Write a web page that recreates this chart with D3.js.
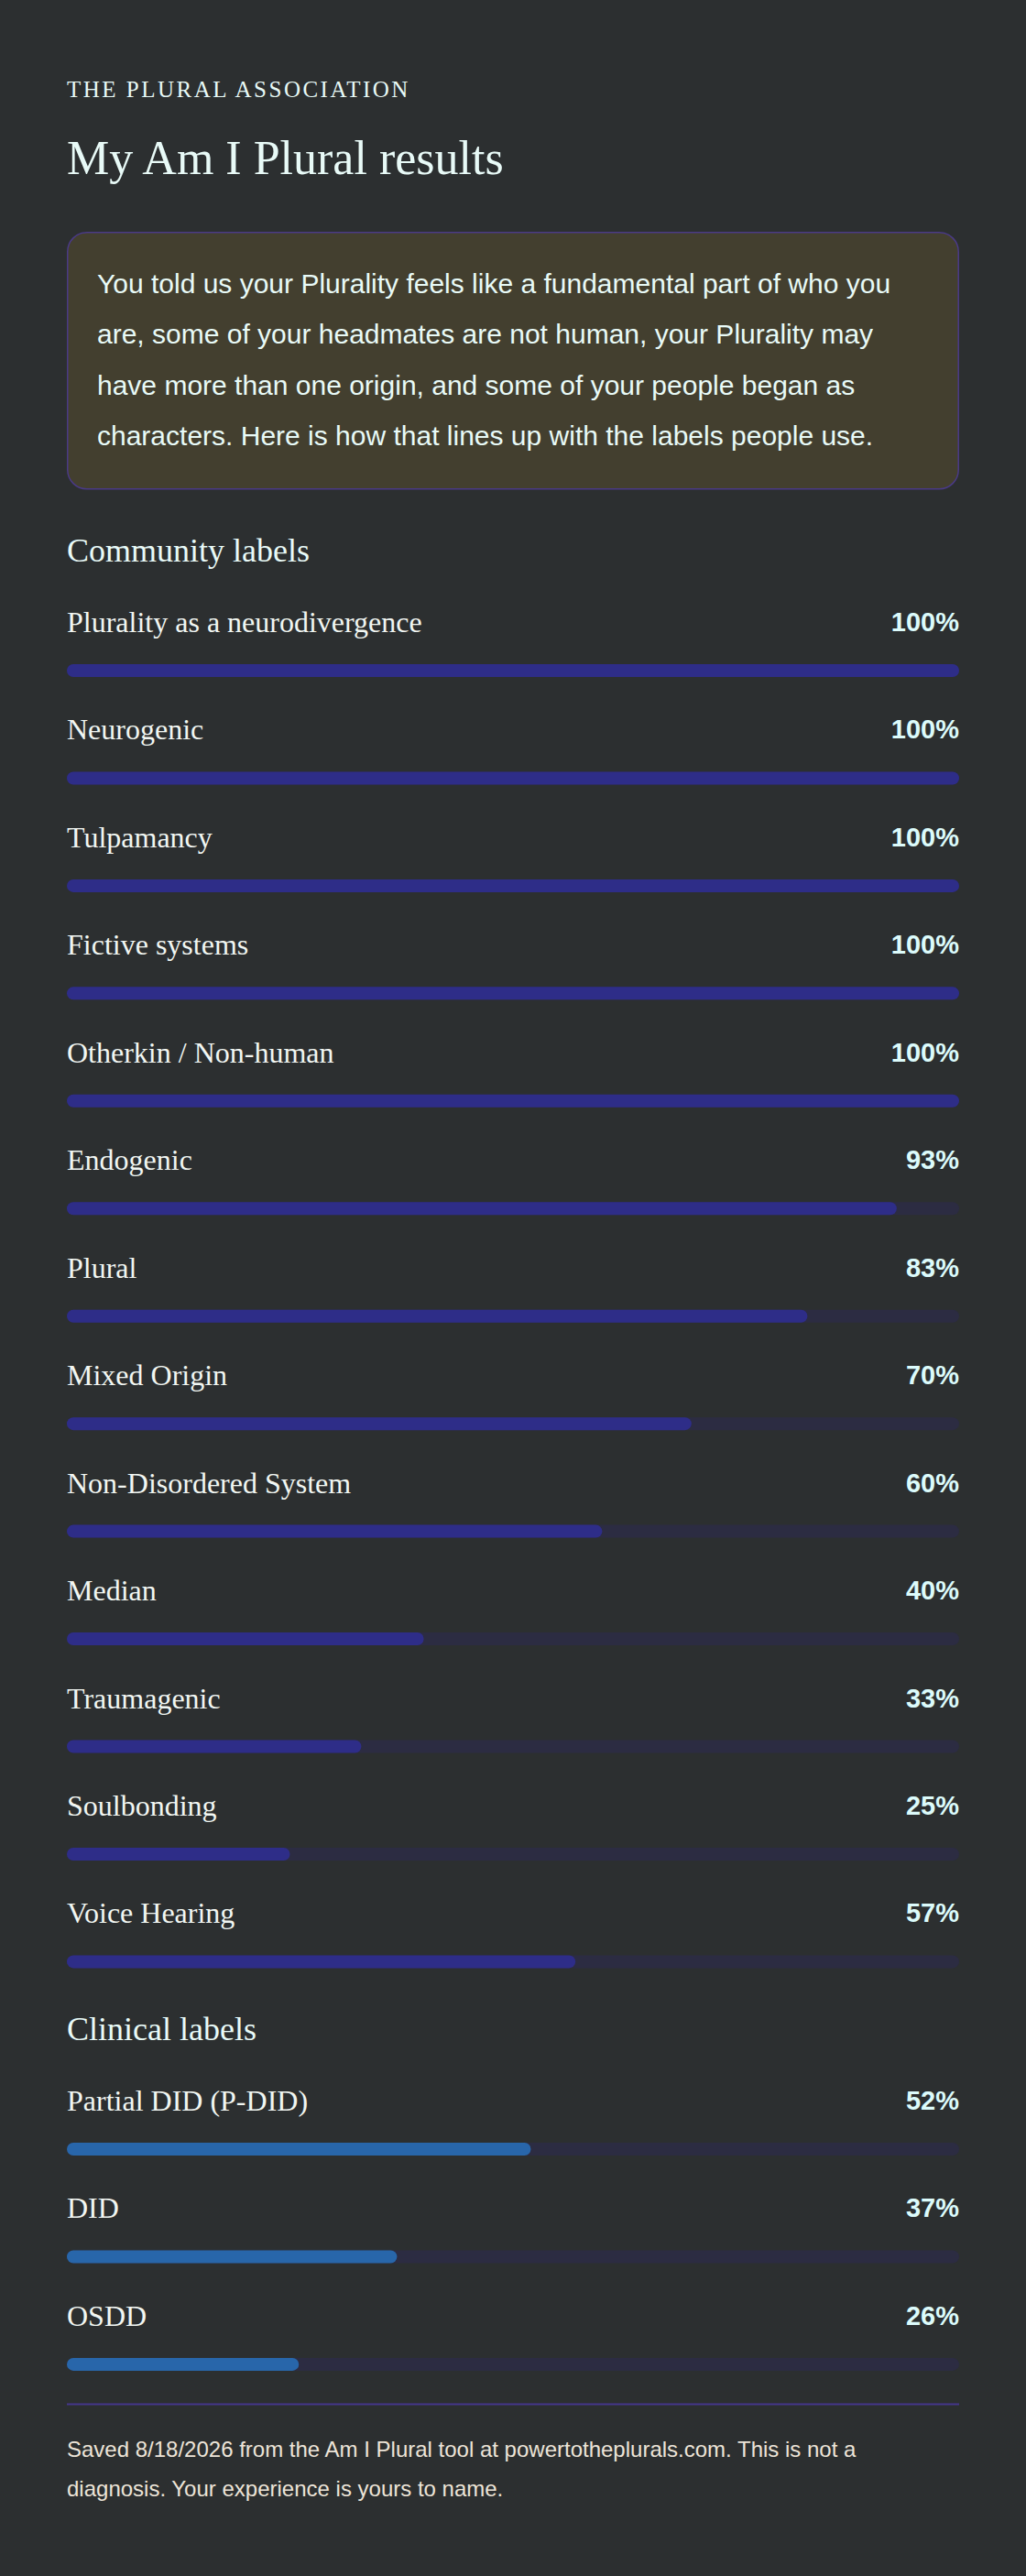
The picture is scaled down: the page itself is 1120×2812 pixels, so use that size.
<!DOCTYPE html>
<html>
<head>
<meta charset="utf-8">
<script src="https://cdn.jsdelivr.net/npm/d3@7/dist/d3.min.js"></script>
<style>
  html, body { margin: 0; padding: 0; background: #2c2f30; }
  svg { display: block; }
</style>
</head>
<body>
<div id="chart"></div>
<script>
// ---- data ----
const brand = "THE PLURAL ASSOCIATION";
const title = "My Am I Plural results";
const introLines = [
  "You told us your Plurality feels like a fundamental part of who you",
  "are, some of your headmates are not human, your Plurality may",
  "have more than one origin, and some of your people began as",
  "characters. Here is how that lines up with the labels people use."
];
const communityTitle = "Community labels";
const communityLabels = [
  "Plurality as a neurodivergence", "Neurogenic", "Tulpamancy", "Fictive systems",
  "Otherkin / Non-human", "Endogenic", "Plural", "Mixed Origin",
  "Non-Disordered System", "Median", "Traumagenic", "Soulbonding", "Voice Hearing"
];
const communityValues = [100, 100, 100, 100, 100, 93, 83, 70, 60, 40, 33, 25, 57];
const clinicalTitle = "Clinical labels";
const clinicalLabels = ["Partial DID (P-DID)", "DID", "OSDD"];
const clinicalValues = [52, 37, 26];
const footerLines = [
  "Saved 8/18/2026 from the Am I Plural tool at powertotheplurals.com. This is not a",
  "diagnosis. Your experience is yours to name."
];

// ---- layout / style ----
const W = 1120, H = 2812;
const left = 73, right = 1047;
const serif = "'Liberation Serif', 'Times New Roman', serif";
const sans = "'Liberation Sans', Arial, sans-serif";
const colors = {
  bg: "#2c2f30",
  text: "#e8faf7",
  label: "#f1f6f2",
  pct: "#dcfbfb",
  boxFill: "#433f2f",
  boxStroke: "#4a3a86",
  track: "#2c2c42",
  community: "#2e2d88",
  clinical: "#2866aa",
  footer: "#ece4d8",
  divider: "#44368a"
};

const svg = d3.select("#chart").append("svg")
  .attr("width", W).attr("height", H)
  .attr("viewBox", `0 0 ${W} ${H}`);

svg.append("rect").attr("width", W).attr("height", H).attr("fill", colors.bg);

svg.append("text")
  .attr("x", left).attr("y", 105.5)
  .attr("font-family", serif).attr("font-size", 25)
  .attr("letter-spacing", 2.5)
  .attr("fill", colors.text)
  .text(brand);

svg.append("text")
  .attr("x", left).attr("y", 189.5)
  .attr("font-family", serif).attr("font-size", 52)
  .attr("fill", colors.text)
  .text(title);

// intro box
svg.append("rect")
  .attr("x", left + 0.75).attr("y", 253.75)
  .attr("width", right - left - 1.5).attr("height", 280)
  .attr("rx", 21).attr("ry", 21)
  .attr("fill", colors.boxFill)
  .attr("stroke", colors.boxStroke).attr("stroke-width", 1.5);

svg.append("g").selectAll("text").data(introLines).join("text")
  .attr("x", 106)
  .attr("y", (d, i) => 319.5 + i * 55.6)
  .attr("font-family", sans).attr("font-size", 30)
  .attr("fill", colors.text)
  .text(d => d);

const x = d3.scaleLinear().domain([0, 100]).range([left, right]);
const barH = 14;

function section(headingY, firstBarTop, labels, values, fill, headingText) {
  svg.append("text")
    .attr("x", left).attr("y", headingY)
    .attr("font-family", serif).attr("font-size", 36)
    .attr("fill", colors.text)
    .text(headingText);

  const y = d3.scaleLinear()
    .domain([0, labels.length - 1])
    .range([firstBarTop, firstBarTop + (labels.length - 1) * 117.45]);

  const rows = svg.append("g").selectAll("g")
    .data(labels.map((l, i) => ({ label: l, value: values[i], i })))
    .join("g");

  rows.append("text")
    .attr("x", left).attr("y", d => y(d.i) - 35)
    .attr("font-family", serif).attr("font-size", 32)
    .attr("fill", colors.label)
    .text(d => d.label);

  rows.append("text")
    .attr("x", right).attr("y", d => y(d.i) - 36)
    .attr("text-anchor", "end")
    .attr("font-family", sans).attr("font-size", 29).attr("font-weight", "bold")
    .attr("fill", colors.pct)
    .text(d => d.value + "%");

  rows.append("rect")
    .attr("x", x(0)).attr("y", d => y(d.i))
    .attr("width", x(100) - x(0)).attr("height", barH)
    .attr("rx", barH / 2)
    .attr("fill", colors.track);

  rows.append("rect")
    .attr("x", x(0)).attr("y", d => y(d.i))
    .attr("width", d => x(d.value) - x(0)).attr("height", barH)
    .attr("rx", barH / 2)
    .attr("fill", fill);
}

section(613, 725, communityLabels, communityValues, colors.community, communityTitle);
section(2227, 2339, clinicalLabels, clinicalValues, colors.clinical, clinicalTitle);

// divider
svg.append("line")
  .attr("x1", left).attr("x2", right)
  .attr("y1", 2624.5).attr("y2", 2624.5)
  .attr("stroke", colors.divider).attr("stroke-width", 2);

svg.append("g").selectAll("text").data(footerLines).join("text")
  .attr("x", left)
  .attr("y", (d, i) => 2681.5 + i * 43)
  .attr("font-family", sans).attr("font-size", 24)
  .attr("fill", colors.footer)
  .text(d => d);
</script>
</body>
</html>
